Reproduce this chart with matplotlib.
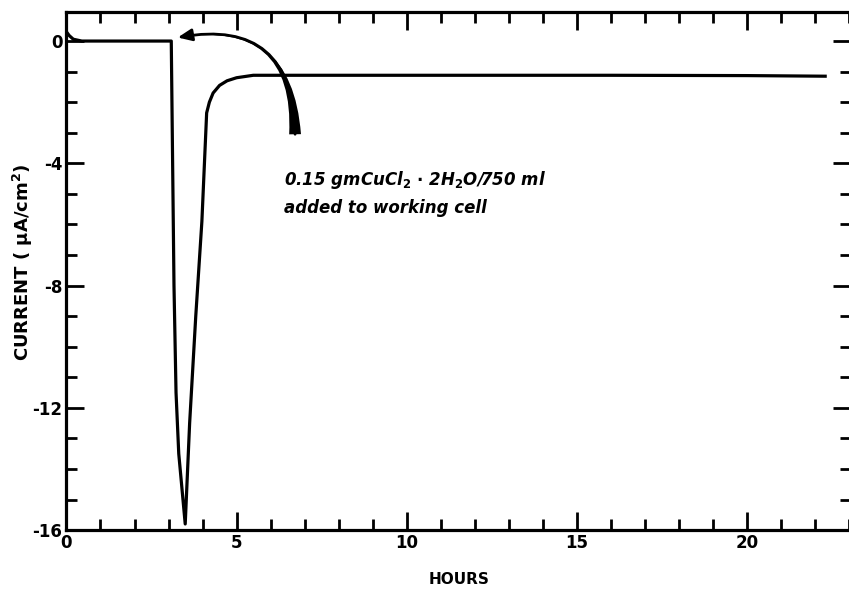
import matplotlib
matplotlib.use("Agg")
import matplotlib.pyplot as plt
from matplotlib.ticker import MultipleLocator

# Data
hours = [0.0, 0.08, 0.2, 0.45, 1.0, 2.0, 3.08, 3.12, 3.16, 3.22, 3.30, 3.49,
         3.62, 3.80, 3.98, 4.12, 4.20, 4.31, 4.50, 4.72, 5.0, 5.49, 8.0,
         12.0, 16.0, 20.0, 22.3]
current = [0.3, 0.18, 0.06, 0.0, 0.0, 0.0, 0.0, -4.0, -8.0, -11.5, -13.5, -15.8,
           -12.5, -9.0, -5.9, -2.35, -2.0, -1.7, -1.45, -1.3, -1.2, -1.12, -1.12,
           -1.12, -1.12, -1.13, -1.15]

x_ticks = [0, 5, 10, 15, 20]
y_ticks = [0, -4, -8, -12, -16]

note_line1 = r"0.15 gmCuCl$_\mathbf{2}$ $\cdot$ 2H$_\mathbf{2}$O/750 ml"
note_line2 = "added to working cell"

plt.rcParams["mathtext.default"] = "regular"

fig = plt.figure(figsize=(8.49, 5.89), dpi=100)
ax = fig.add_axes([0.0783, 0.100, 0.9237, 0.8796])

ax.plot(hours, current, color="black", lw=2.3, solid_joinstyle="round")

ax.set_xlim(0, 23.05)
ax.set_ylim(-16, 0.95)

ax.xaxis.set_minor_locator(MultipleLocator(1))
ax.yaxis.set_minor_locator(MultipleLocator(1))
ax.set_xticks(x_ticks)
ax.set_yticks(y_ticks)
ax.set_xticklabels([str(v) for v in x_ticks], fontsize=12, fontweight="bold")
ax.set_yticklabels([str(v) for v in y_ticks], fontsize=12, fontweight="bold")

ax.tick_params(which="both", direction="in", top=True, right=True,
               width=2, color="black", pad=3)
ax.tick_params(which="major", length=13)
ax.tick_params(which="minor", length=8)

for s in ax.spines.values():
    s.set_linewidth(2.3)

ax.set_xlabel("HOURS", fontsize=11, fontweight="bold", labelpad=14)
ax.set_ylabel(r"CURRENT ( $\mu$A/cm$^\mathbf{2}$)", fontsize=13,
              fontweight="bold")
ax.yaxis.set_label_coords(-0.040, 0.517)

ax.text(6.4, -4.55, note_line1, fontsize=12, fontweight="bold",
        fontstyle="italic", va="center", ha="left")
ax.text(6.4, -5.45, note_line2, fontsize=12, fontweight="bold",
        fontstyle="italic", va="center", ha="left")

tail = (6.72, -3.14)
head = (3.19, 0.1)
ax.annotate("", xy=head, xytext=tail,
            arrowprops=dict(arrowstyle="wedge,tail_width=0.85,shrink_factor=0.2",
                            connectionstyle="arc3,rad=0.6",
                            color="black", lw=0))
ax.annotate("", xy=head, xytext=tail,
            arrowprops=dict(arrowstyle="-|>,head_length=0.7,head_width=0.3",
                            connectionstyle="arc3,rad=0.6",
                            color="black", lw=2.0, mutation_scale=12))

fig.savefig("out.png", dpi=100, facecolor="white")
